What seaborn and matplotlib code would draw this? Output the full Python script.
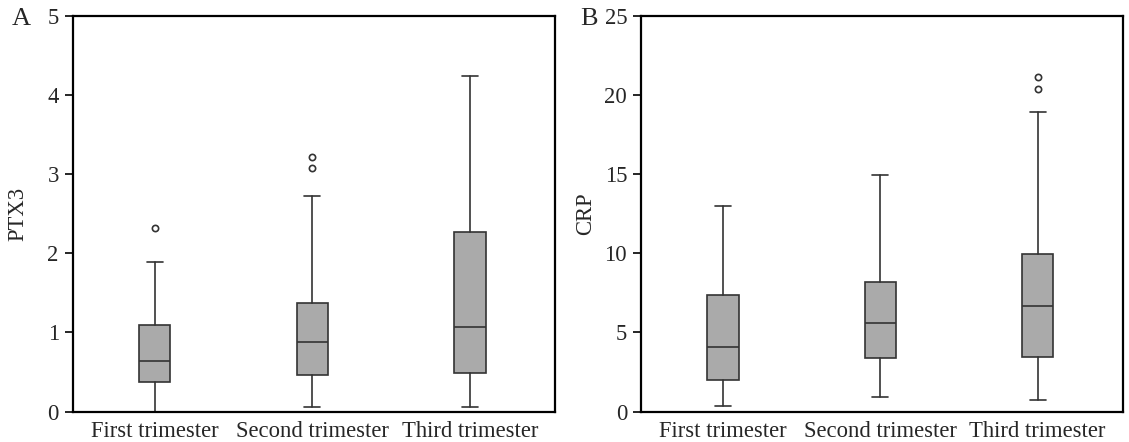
import matplotlib.pyplot as plt
import seaborn as sns

groups = ['First trimester', 'Second trimester', 'Third trimester']

# PTX3 box statistics
ptx3_low = [0.0, 0.06, 0.06]
ptx3_q1 = [0.38, 0.46, 0.49]
ptx3_med = [0.64, 0.88, 1.07]
ptx3_q3 = [1.09, 1.37, 2.27]
ptx3_high = [1.89, 2.72, 4.24]
ptx3_out = [[2.32], [3.08, 3.22], []]

# CRP box statistics
crp_low = [0.34, 0.92, 0.71]
crp_q1 = [2.0, 3.36, 3.45]
crp_med = [4.08, 5.59, 6.70]
crp_q3 = [7.37, 8.21, 9.94]
crp_high = [12.96, 14.96, 18.89]
crp_out = [[], [], [20.4, 21.15]]

sns.set_style("ticks")
plt.rcParams['font.family'] = ['Liberation Serif', 'DejaVu Serif']
plt.rcParams['font.size'] = 16.3

fig = plt.figure(figsize=(11.29, 4.42), dpi=100)
ax_a = fig.add_axes([0.0644, 0.0686, 0.4272, 0.8959])
ax_b = fig.add_axes([0.5678, 0.0686, 0.4266, 0.8959])

edge = '#333333'


def draw(ax, low, q1, med, q3, high, out, ylabel, ymax, step, letter, lpad):
    stats = []
    for i, g in enumerate(groups):
        stats.append(dict(label=g, whislo=low[i], q1=q1[i], med=med[i],
                          q3=q3[i], whishi=high[i], fliers=out[i]))
    ax.bxp(stats, positions=[0, 1, 2], widths=0.2, capwidths=0.1,
           patch_artist=True,
           boxprops=dict(facecolor='#aaaaaa', edgecolor=edge, linewidth=1.2),
           medianprops=dict(color=edge, linewidth=1.2),
           whiskerprops=dict(color=edge, linewidth=1.2),
           capprops=dict(color=edge, linewidth=1.2),
           flierprops=dict(marker='o', markersize=4.5, markerfacecolor='white',
                           markeredgecolor=edge, markeredgewidth=1.2))
    ax.set_xlim(-0.52, 2.54)
    ax.set_ylim(0, ymax)
    ax.set_yticks(range(0, ymax + 1, step))
    ax.set_xticks([0, 1, 2])
    ax.set_xticklabels(groups)
    ax.set_ylabel(ylabel, labelpad=lpad)
    ax.tick_params(axis='x', length=0, pad=7)
    ax.tick_params(axis='y', length=6, width=1.4, direction='out', pad=4)
    for sp in ax.spines.values():
        sp.set_visible(True)
        sp.set_linewidth(1.6)
        sp.set_color('black')
    ax.text(-0.126, 0.992, letter, transform=ax.transAxes, fontsize=19,
            ha='left', va='center')


draw(ax_a, ptx3_low, ptx3_q1, ptx3_med, ptx3_q3, ptx3_high, ptx3_out,
     'PTX3', 5, 1, 'A', 14)
draw(ax_b, crp_low, crp_q1, crp_med, crp_q3, crp_high, crp_out,
     'CRP', 25, 5, 'B', 6)

fig.savefig('out.png', dpi=100)
